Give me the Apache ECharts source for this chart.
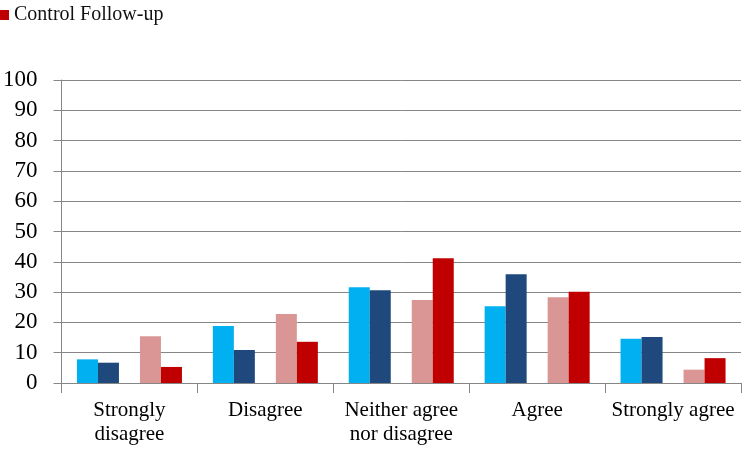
<!DOCTYPE html>
<html>
<head>
<meta charset="utf-8">
<script src="https://cdn.jsdelivr.net/npm/echarts@6/dist/echarts.min.js"></script>
<style>html,body{margin:0;padding:0;background:#fff}#c{width:745px;height:452px}</style>
</head>
<body>
<div id="c"></div>
<script>
var categories = ['Strongly\ndisagree', 'Disagree', 'Neither agree\nnor disagree', 'Agree', 'Strongly agree'];
var interventionBaseline = [7.8, 18.8, 31.6, 25.3, 14.6];
var interventionFollowup = [6.7, 10.9, 30.6, 35.9, 15.2];
var controlBaseline = [15.4, 22.8, 27.4, 28.3, 4.4];
var controlFollowup = [5.3, 13.6, 41.2, 30.1, 8.2];
var yTicks = [0, 10, 20, 30, 40, 50, 60, 70, 80, 90, 100];

var font = '"Liberation Serif", "DejaVu Serif", serif';
var chart = echarts.init(document.getElementById('c'));
function bar(name, data, color) {
  return {name: name, type: 'bar', data: data, barWidth: 21, barGap: '0%',
    itemStyle: {color: color}, animation: false};
}
chart.setOption({
  animation: false,
  legend: {
    data: ['Control Follow-up'], left: 0, top: 5, padding: 0, itemWidth: 9, itemHeight: 10, itemGap: 4,
    icon: 'rect',
    textStyle: {fontFamily: font, fontSize: 20, color: '#111'}
  },
  grid: {left: 60, right: 4, top: 80, bottom: 69},
  xAxis: {
    type: 'category', data: categories,
    axisLine: {lineStyle: {color: '#868686', width: 1}},
    axisTick: {show: true, length: 10, lineStyle: {color: '#868686'}},
    axisLabel: {fontFamily: font, fontSize: 21, color: '#000', margin: 15, lineHeight: 24, interval: 0}
  },
  yAxis: {
    type: 'value', min: yTicks[0], max: yTicks[yTicks.length - 1], interval: 10,
    axisLine: {show: true, lineStyle: {color: '#868686', width: 1}},
    axisTick: {show: true, length: 8, lineStyle: {color: '#868686'}},
    axisLabel: {fontFamily: font, fontSize: 23, color: '#000', margin: 24},
    splitLine: {lineStyle: {color: '#868686', width: 1}}
  },
  series: [
    bar('Intervention Baseline', interventionBaseline, '#00B0F0'),
    bar('Intervention Follow-up', interventionFollowup, '#1F497D'),
    bar('', ['-', '-', '-', '-', '-'], 'rgba(0,0,0,0)'),
    bar('Control Baseline', controlBaseline, '#D99694'),
    bar('Control Follow-up', controlFollowup, '#C00000')
  ]
});
</script>
</body>
</html>
